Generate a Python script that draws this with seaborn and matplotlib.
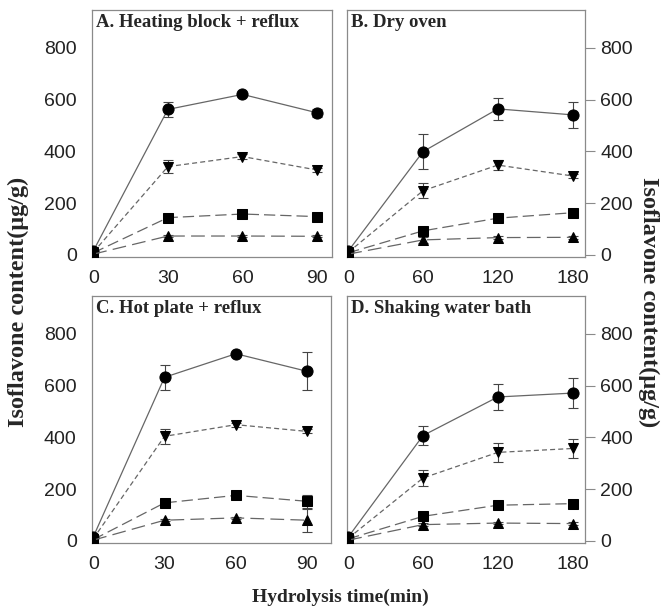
import numpy as np
import pandas as pd
import matplotlib
matplotlib.use("Agg")
import matplotlib.pyplot as plt
import seaborn as sns

sns.set_theme(style="white")
plt.rcParams['font.family'] = ['Liberation Sans', 'DejaVu Sans']

series_names = ["circle", "tri_down", "square", "tri_up"]

panel_titles = ["A. Heating block + reflux", "B. Dry oven",
                "C. Hot plate + reflux", "D. Shaking water bath"]

time_A = [0, 30, 60, 90]
time_B = [0, 60, 120, 180]
time_C = [0, 30, 60, 90]
time_D = [0, 60, 120, 180]

# values per series (circle, tri_down, square, tri_up)
A_circle = [15, 562, 620, 549]
A_tridown = [10, 341, 380, 328]
A_square = [8, 144, 158, 148]
A_triup = [3, 73, 73, 72]
A_err_circle = [0, 28, 6, 15]
A_err_tridown = [0, 25, 8, 6]
A_err_square = [0, 6, 5, 5]
A_err_triup = [0, 4, 4, 4]

B_circle = [15, 399, 564, 541]
B_tridown = [10, 248, 347, 305]
B_square = [8, 93, 142, 163]
B_triup = [3, 58, 67, 68]
B_err_circle = [0, 68, 42, 50]
B_err_tridown = [0, 30, 20, 8]
B_err_square = [0, 12, 6, 15]
B_err_triup = [0, 10, 5, 5]

C_circle = [15, 632, 723, 655]
C_tridown = [8, 404, 449, 423]
C_square = [5, 147, 176, 153]
C_triup = [3, 80, 89, 80]
C_err_circle = [0, 48, 8, 73]
C_err_tridown = [0, 30, 8, 8]
C_err_square = [0, 6, 6, 25]
C_err_triup = [0, 4, 4, 45]

D_circle = [15, 407, 556, 571]
D_tridown = [10, 243, 342, 357]
D_square = [8, 95, 138, 144]
D_triup = [3, 63, 69, 67]
D_err_circle = [0, 35, 50, 57]
D_err_tridown = [0, 30, 37, 38]
D_err_square = [0, 10, 6, 6]
D_err_triup = [0, 6, 5, 5]

panels = [
    (time_A, [A_circle, A_tridown, A_square, A_triup],
     [A_err_circle, A_err_tridown, A_err_square, A_err_triup]),
    (time_B, [B_circle, B_tridown, B_square, B_triup],
     [B_err_circle, B_err_tridown, B_err_square, B_err_triup]),
    (time_C, [C_circle, C_tridown, C_square, C_triup],
     [C_err_circle, C_err_tridown, C_err_square, C_err_triup]),
    (time_D, [D_circle, D_tridown, D_square, D_triup],
     [D_err_circle, D_err_tridown, D_err_square, D_err_triup]),
]

y_ticks = [0, 200, 400, 600, 800]

markers = {"circle": "o", "tri_down": "v", "square": "s", "tri_up": "^"}
msizes = {"circle": 8, "tri_down": 7, "square": 7, "tri_up": 7}
dashes = {"circle": "", "tri_down": (4, 2.5), "square": (9, 4), "tri_up": (11, 5)}

fig = plt.figure(figsize=(6.65, 6.14), dpi=100)
W, H = 665, 614
boxes = [(92, 10, 332, 257), (347, 10, 585, 257),
         (92, 296, 331, 543), (347, 296, 585, 543)]
xlims = [(-0.5, 96), (-1, 190), (-0.5, 100), (-1, 190)]

line_col = "#666666"
spine_col = "#8a8a8a"

for i, ((t, vals, errs), (x0, y0, x1, y1)) in enumerate(zip(panels, boxes)):
    ax = fig.add_axes([x0 / W, 1 - y1 / H, (x1 - x0) / W, (y1 - y0) / H])
    rows = []
    for name, v in zip(series_names, vals):
        for tt, vv in zip(t, v):
            rows.append({"time": tt, "value": vv, "series": name})
    df = pd.DataFrame(rows)
    for name, v, e in zip(series_names, vals, errs):
        ax.errorbar(t, v, yerr=e, fmt="none", ecolor="#444444",
                    elinewidth=0.8, capsize=3.5, capthick=0.8, zorder=2)
    for name in series_names:
        sub = df[df["series"] == name]
        sns.lineplot(data=sub, x="time", y="value", ax=ax,
                     color=line_col, linewidth=0.9,
                     marker=markers[name], markersize=msizes[name],
                     markerfacecolor="black", markeredgecolor="black",
                     legend=False, zorder=3)
        if dashes[name]:
            ax.lines[-1].set_dashes(dashes[name])
        else:
            ax.lines[-1].set_linestyle("-")
    ax.set_xlim(*xlims[i])
    ax.set_ylim(-8, 946)
    ax.set_xticks(t)
    ax.set_yticks(y_ticks)
    ax.set_xlabel("")
    ax.set_ylabel("")
    for s in ax.spines.values():
        s.set_color(spine_col)
        s.set_linewidth(0.9)
    ax.tick_params(axis="x", direction="inout", length=7, width=0.8,
                   color=spine_col, labelsize=14, pad=6, labelcolor="#222222")
    if i in (1, 3):
        ax.yaxis.tick_right()
    ax.tick_params(axis="y", direction="out", length=7, width=0.8,
                   color=spine_col, labelsize=14, pad=4, labelcolor="#222222")
    ax.text(0.015, 0.985, panel_titles[i], transform=ax.transAxes,
            ha="left", va="top", fontsize=13.5, fontweight="bold",
            family=["Liberation Serif", "DejaVu Serif"])

fig.text(18 / W, 1 - 302 / H, "Isoflavone content(\u03bcg/g)", rotation=90,
         ha="center", va="center", fontsize=17.5, fontweight="bold",
         family=["Liberation Serif", "DejaVu Serif"])
fig.text(649 / W, 1 - 302 / H, "Isoflavone content(\u03bcg/g)", rotation=270,
         ha="center", va="center", fontsize=17.5, fontweight="bold",
         family=["Liberation Serif", "DejaVu Serif"])
fig.text(340 / W, 1 - 597 / H, "Hydrolysis time(min)",
         ha="center", va="center", fontsize=14, fontweight="bold",
         family=["Liberation Serif", "DejaVu Serif"])

fig.savefig("out.png", dpi=100)
